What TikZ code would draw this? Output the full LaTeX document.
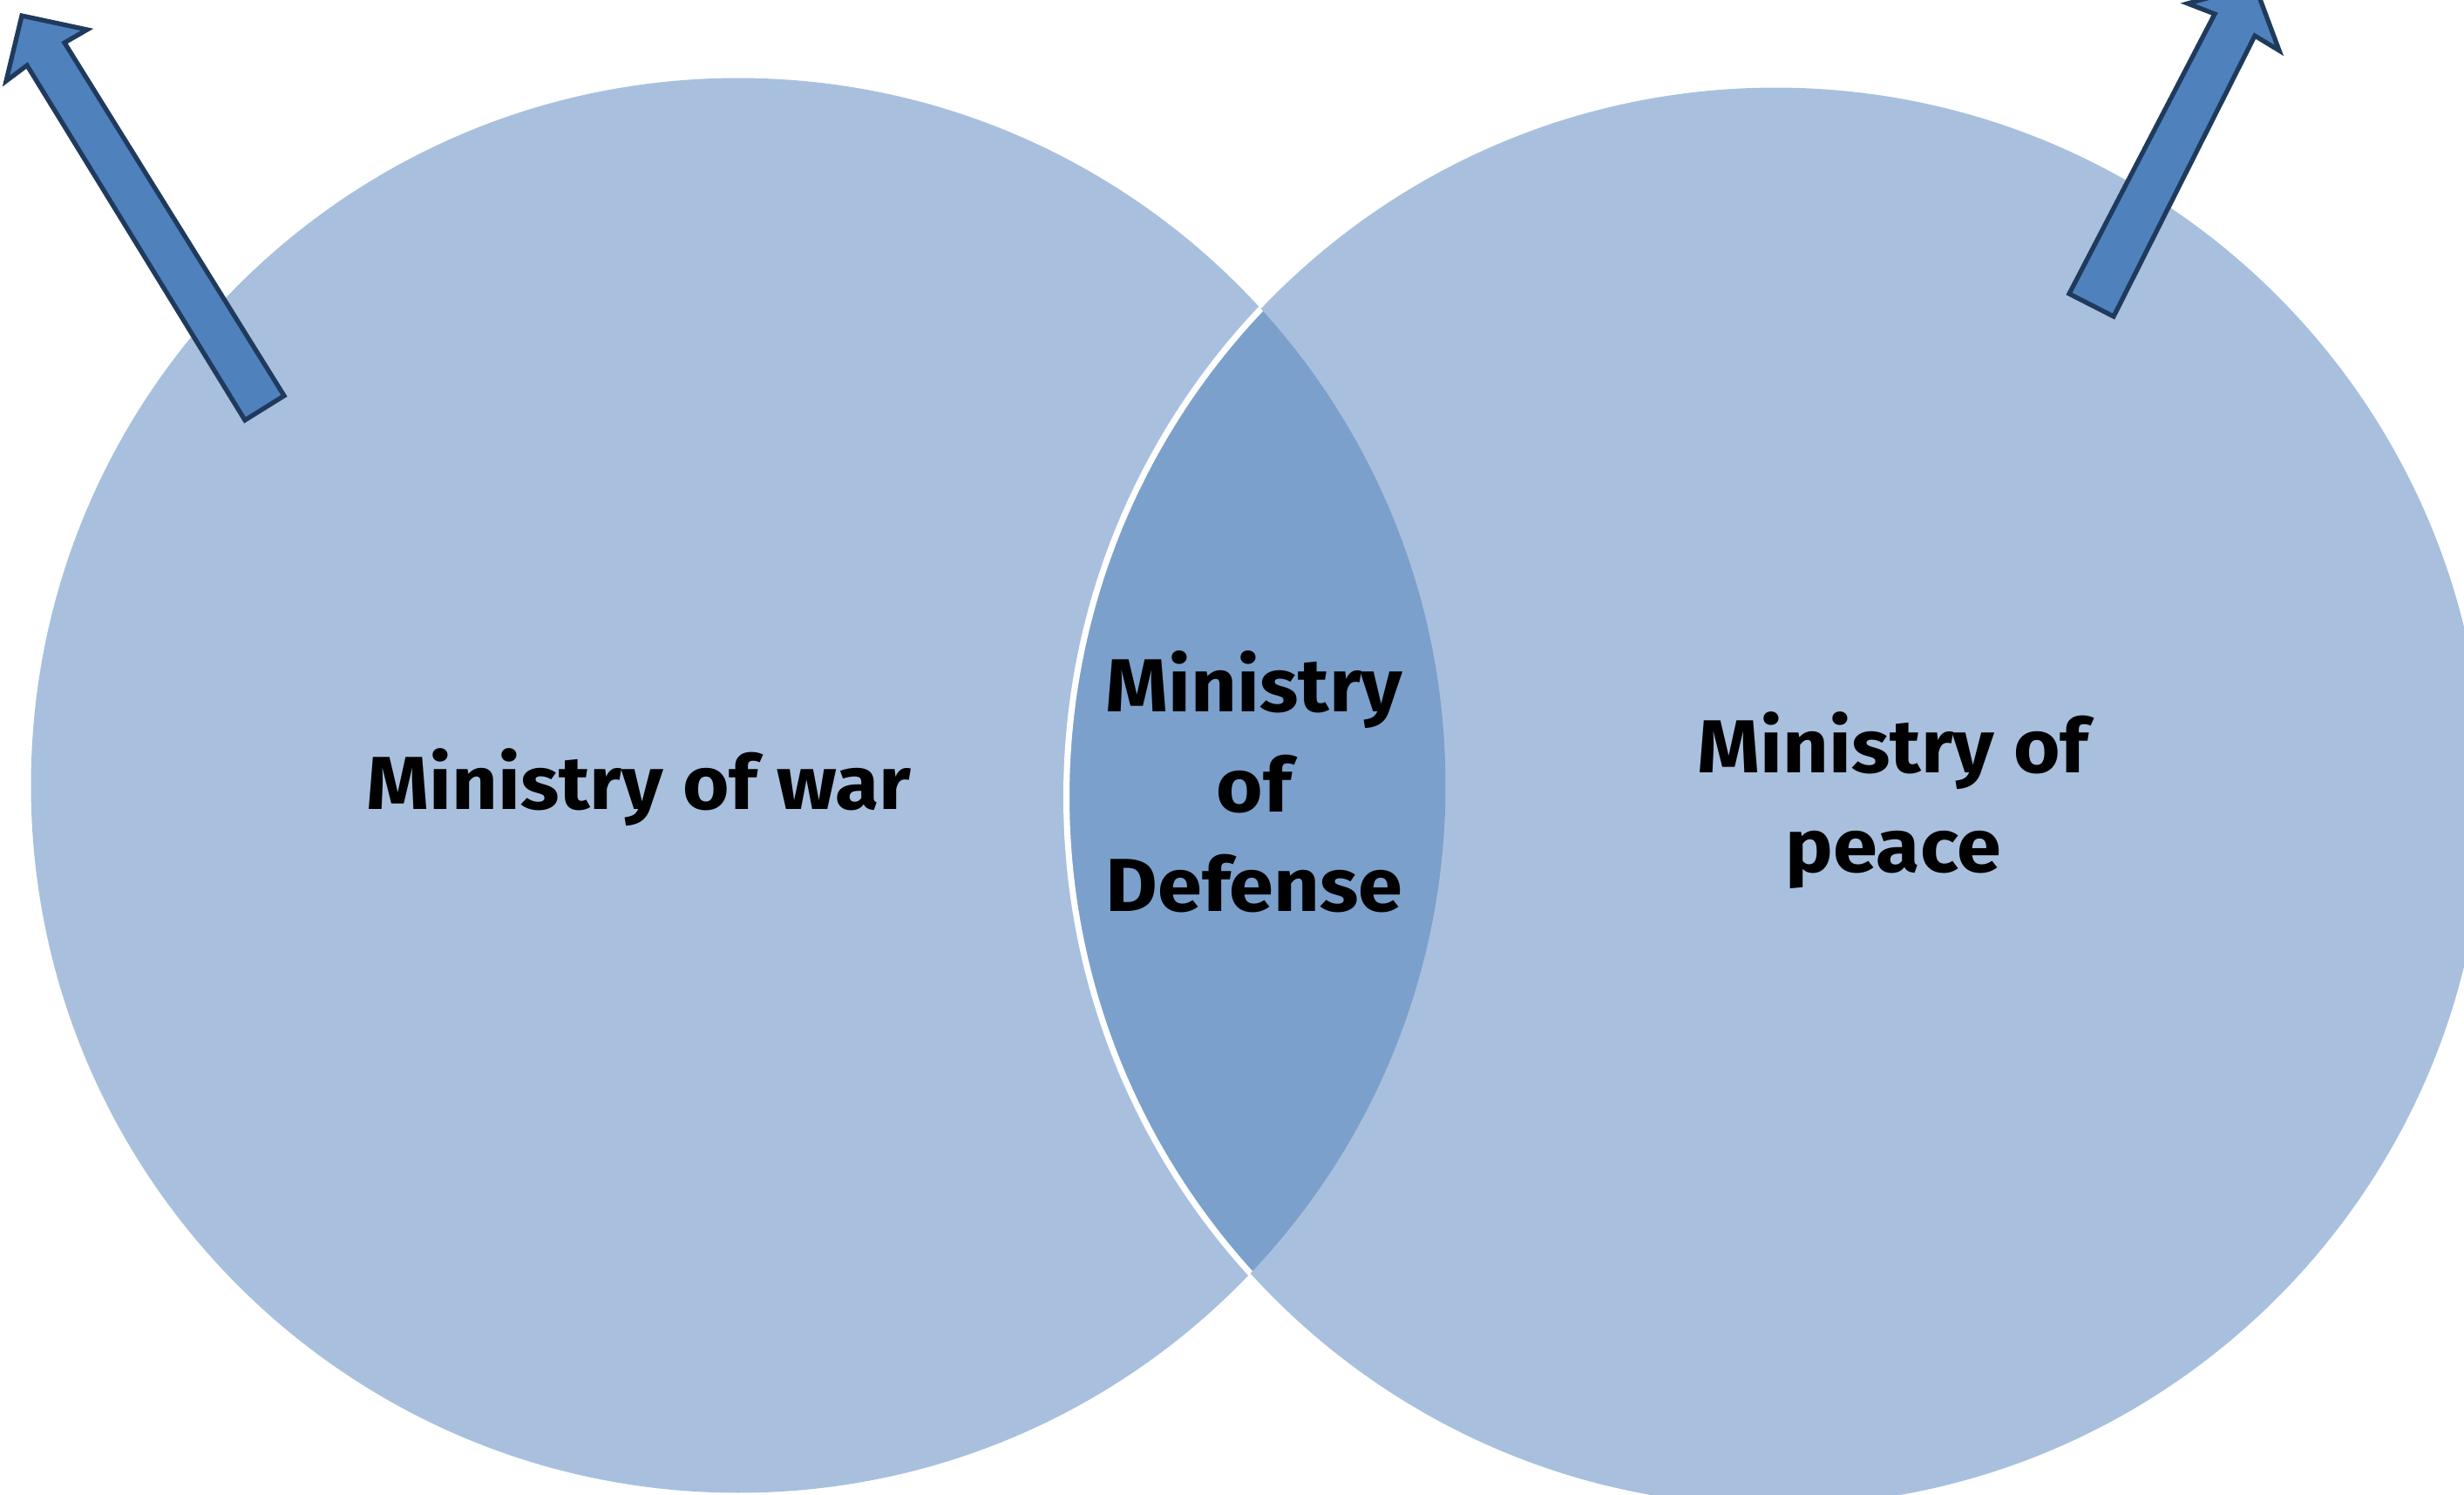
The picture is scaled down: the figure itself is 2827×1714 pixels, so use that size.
\documentclass[tikz,border=0pt]{standalone}
\usepackage{fontspec}
\setmainfont{Fira Sans}
\begin{document}
\begin{tikzpicture}[x=0.01cm, y=-0.01cm,
  vennfill/.style={fill=vennlight, draw=none},
  lensfill/.style={fill=venndark, draw=none},
  blockarrow/.style={fill=arrowfill, draw=arrowline, line width=1.5pt, line join=miter},
  label/.style={font=\fontsize{24.5}{32.5}\selectfont\bfseries, align=center, text=black,
                inner sep=0pt, xscale=1.065}]
  \definecolor{vennlight}{HTML}{A8C0DE}
  \definecolor{venndark}{HTML}{7BA0CC}
  \definecolor{arrowfill}{HTML}{4F81BD}
  \definecolor{arrowline}{HTML}{1F3A5C}

  \useasboundingbox (0,0) rectangle (2827,1714);
  \clip (0,0) rectangle (2827,1714);

  \coordinate (cL) at (847,901);
  \coordinate (cR) at (2037,914);

  % the two sets
  \fill[vennfill] (cL) circle[radius=8.11cm];
  \fill[vennfill] (cR) circle[radius=8.13cm];

  % overlap, with a white rim on its left edge
  \begin{scope}
    \clip (cL) circle[radius=8.11cm];
    \fill[lensfill] (cR) circle[radius=8.13cm];
    \draw[white, line width=2pt] (cR) circle[radius=8.13cm];
  \end{scope}

  % block arrows
  \draw[blockarrow] (25,18) -- (100,34) -- (74,49) -- (326,454) -- (281,482)
        -- (31,75) -- (7,93) -- cycle;
  \draw[blockarrow] (2587,-17) -- (2615,58) -- (2587,41) -- (2425,363) -- (2374,337)
        -- (2541,16) -- (2510,4) -- cycle;

  % labels
  \node[label] (war) at (733,903) {Ministry of war};
  \node[label] (defense) at (1439,897) {Ministry\\of\\Defense};
  \node[label] (peace) at (2172,918) {Ministry of\\peace};
\end{tikzpicture}
\end{document}
